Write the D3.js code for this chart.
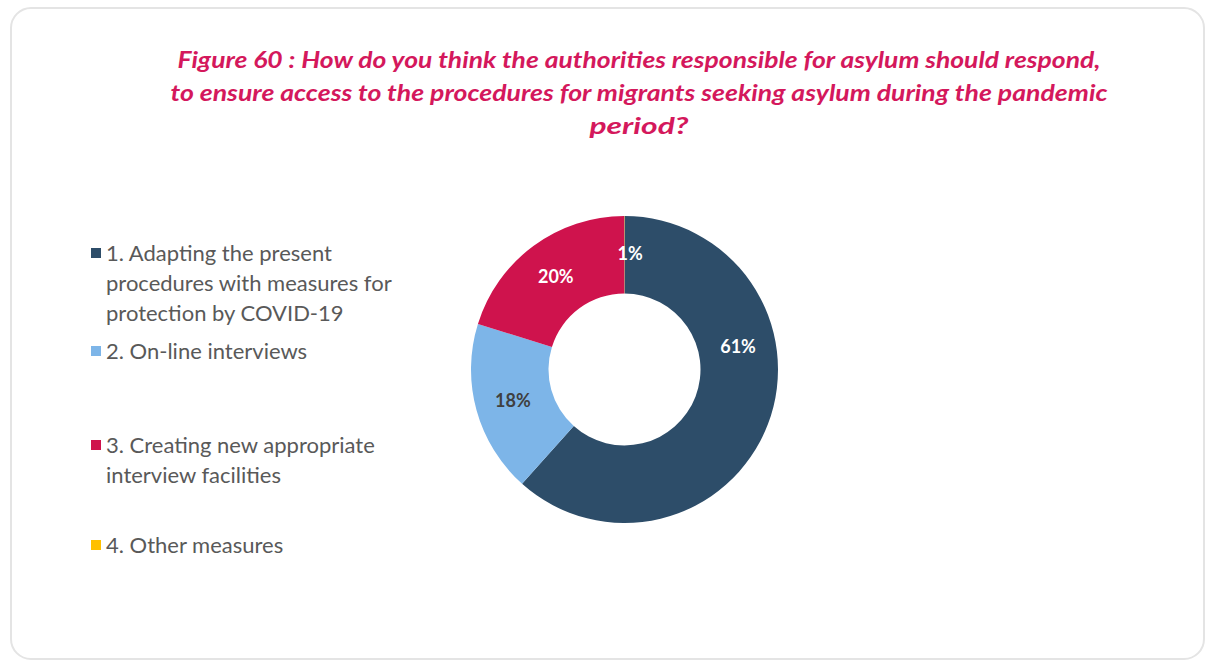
<!DOCTYPE html>
<html>
<head>
<meta charset="utf-8">
<script src="https://cdn.jsdelivr.net/npm/d3@7"></script>
<style>
  html, body { margin: 0; padding: 0; background: #ffffff; }
  svg { display: block; }
</style>
</head>
<body>
<svg id="chart" width="1206" height="662"></svg>
<script>
// ---- data ----
const categories = [
  "1. Adapting the present procedures with measures for protection by COVID-19",
  "2. On-line interviews",
  "3. Creating new appropriate interview facilities",
  "4. Other measures"
];
const legendLines = [
  ["1. Adapting the present", "procedures with measures for", "protection by COVID-19"],
  ["2. On-line interviews"],
  ["3. Creating new appropriate", "interview facilities"],
  ["4. Other measures"]
];
const values = [61.4, 18.1, 20.1, 0.03];
const valueLabels = ["61%", "18%", "20%", "1%"];
const colors = ["#2d4d69", "#7db5e8", "#cf134d", "#ffc000"];
const titleLines = [
  "Figure 60 : How do you think the authorities responsible for asylum should respond,",
  "to ensure access to the procedures for migrants seeking asylum during the pandemic",
  "period?"
];

// ---- layout ----
const svg = d3.select("#chart");
svg.append("rect")
  .attr("x", 11).attr("y", 8).attr("width", 1193).attr("height", 651)
  .attr("rx", 20).attr("ry", 20)
  .attr("fill", "#ffffff").attr("stroke", "#e4e4e4").attr("stroke-width", 2);

// title (stretched to match the original width)
const title = svg.append("g");
const titleY = [68, 101, 134];
const titleWidths = [923, 937, 99];
titleLines.forEach((t, i) => {
  title.append("text")
    .attr("x", 639).attr("y", titleY[i])
    .attr("text-anchor", "middle")
    .attr("font-family", "Lato, 'Open Sans', sans-serif")
    .attr("font-size", 22)
    .attr("font-weight", "bold")
    .attr("font-style", "italic")
    .attr("fill", "#d4185c")
    .attr("textLength", titleWidths[i])
    .attr("lengthAdjust", "spacingAndGlyphs")
    .text(t);
});

// donut
const cx = 624.5, cy = 369.5, rOuter = 153.5, rInner = 76;
const pie = d3.pie().sort(null).value(d => d)(values);
const arc = d3.arc().innerRadius(rInner).outerRadius(rOuter);
const g = svg.append("g").attr("transform", `translate(${cx},${cy})`);
g.selectAll("path.slice").data(pie).join("path")
  .attr("class", "slice")
  .attr("d", arc)
  .attr("fill", (d, i) => colors[i]);

// label placement (Excel-like): radial midpoint, with angle nudges
const labelAngleShift = [-0.56, 0, 0, 0.05];
const rLabel = (rInner + rOuter) / 2 + 1;
g.selectAll("text.lbl").data(pie).join("text")
  .attr("class", "lbl")
  .attr("x", (d, i) => rLabel * Math.sin((d.startAngle + d.endAngle) / 2 + labelAngleShift[i]))
  .attr("y", (d, i) => -rLabel * Math.cos((d.startAngle + d.endAngle) / 2 + labelAngleShift[i]))
  .attr("dy", "0.35em")
  .attr("text-anchor", "middle")
  .attr("font-family", "Lato, 'Open Sans', sans-serif")
  .attr("font-size", 18)
  .attr("font-weight", "bold")
  .attr("fill", (d, i) => i === 1 ? "#404040" : "#ffffff")
  .text((d, i) => valueLabels[i]);

// legend
const legendY = [253, 351, 445, 545];
const lineH = 30;
const leg = svg.append("g");
legendLines.forEach((lines, i) => {
  leg.append("rect")
    .attr("x", 91).attr("y", legendY[i] - 5)
    .attr("width", 10).attr("height", 10)
    .attr("fill", colors[i]);
  lines.forEach((ln, j) => {
    leg.append("text")
      .attr("x", 106).attr("y", legendY[i] + j * lineH)
      .attr("dy", "0.35em")
      .attr("font-family", "Lato, 'Open Sans', sans-serif")
      .attr("font-size", 22)
      .attr("fill", "#595959")
      .text(ln);
  });
});
</script>
</body>
</html>
